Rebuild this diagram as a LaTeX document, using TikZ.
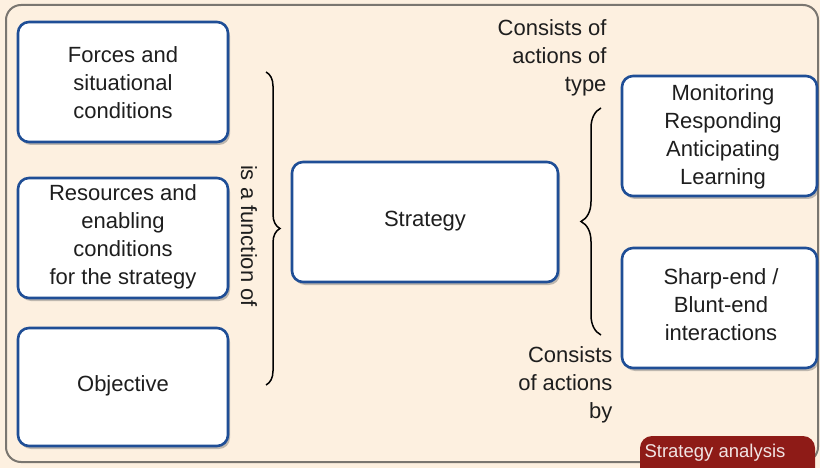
\documentclass[tikz,border=0pt]{standalone}
\usepackage{fontspec}
\setmainfont{Liberation Sans}
\usetikzlibrary{shadows,decorations.pathreplacing}
\definecolor{paper}{HTML}{FDF0E0}
\definecolor{frame}{HTML}{7A7670}
\definecolor{boxblue}{HTML}{1F4E96}
\definecolor{ink}{HTML}{1E1E1E}
\definecolor{tagred}{HTML}{8E1B17}
\begin{document}
\begin{tikzpicture}[x=1pt,y=-1pt,
  box/.style={draw=boxblue, line width=2.6pt, fill=white, rounded corners=11pt,
    drop shadow={shadow xshift=2pt, shadow yshift=-3pt, fill=black!55, opacity=0.45}},
  lbl/.style={text=ink, font=\fontsize{22}{28}\selectfont, align=center},
  bracefig/.style={draw=black, line width=1.5pt, decorate}]
\useasboundingbox (0,0) rectangle (820,468);
% frame
\fill[paper] (0,0) rectangle (820,468);
\draw[frame, line width=2pt, fill=paper, rounded corners=15pt] (6,5) rectangle (818,462);

% input boxes
\draw[box] (18,22) rectangle (228,142);
\node[lbl] (forces) at (123,83) {Forces and\\situational\\conditions};
\draw[box] (18,178) rectangle (228,298);
\node[lbl] (resources) at (123,237) {Resources and\\enabling\\conditions\\for the strategy};
\draw[box] (18,328) rectangle (228,446);
\node[lbl] (objective) at (123,386) {Objective};

% central box
\draw[box] (292,162) rectangle (558,282);
\node[lbl] (strategy) at (425,221) {Strategy};

% action boxes
\draw[box] (622,76) rectangle (817,196);
\node[lbl] (monitor) at (723,137) {Monitoring\\Responding\\Anticipating\\Learning};
\draw[box] (622,248) rectangle (817,368);
\node[lbl] (sharp) at (721,305) {Sharp-end /\\Blunt-end\\interactions};

% braces
\coordinate (lb1) at (266,72);
\coordinate (lb2) at (266,385);
\draw[bracefig, decoration={brace, amplitude=14pt}] (lb1) -- (lb2);
\node[lbl, rotate=-90] (func) at (249,236) {is a function of};

\coordinate (rb1) at (601,335);
\coordinate (rb2) at (601,108);
\draw[bracefig, decoration={brace, amplitude=20pt}] (rb1) -- (rb2);

\node[lbl, align=right, anchor=north east] (type) at (610,16) {Consists of\\actions of\\type};
\node[lbl, align=right, anchor=north east] (by) at (616,343) {Consists\\of actions\\by};

% label tag
\fill[tagred, rounded corners=12pt] (640,436) rectangle (815,480);
\node[text=white!88!tagred, font=\fontsize{18.5}{20}\selectfont, anchor=west] (tag) at (641,453) {Strategy analysis};
\end{tikzpicture}
\end{document}
